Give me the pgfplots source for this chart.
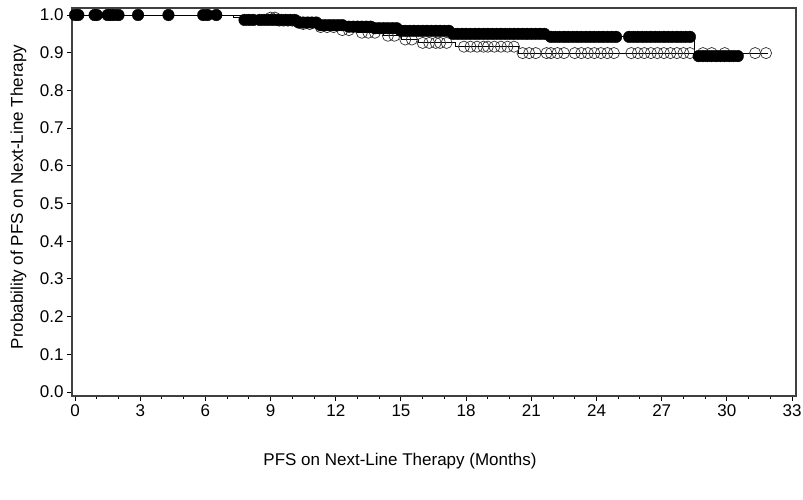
\documentclass[border=0pt]{standalone}
\usepackage{fontspec}
\setmainfont{Liberation Sans}
\usepackage{pgfplots}
\pgfplotsset{compat=1.18}

\begin{document}
\begin{tikzpicture}
\begin{axis}[
    at={(0,0)}, anchor=south west,
    scale only axis,
    width=724pt, height=388pt,
    xmin=-0.14, xmax=33.18,
    ymin=-0.0106, ymax=1.0186,
    xtick={0,3,6,9,12,15,18,21,24,27,30,33},
    minor x tick num=2,
    ytick={0,0.1,0.2,0.3,0.4,0.5,0.6,0.7,0.8,0.9,1.0},
    yticklabel style={/pgf/number format/fixed, /pgf/number format/fixed zerofill, /pgf/number format/precision=1},
    /pgf/number format/assume math mode=true,
    tick pos=left, tick align=outside,
    major tick length=5pt, minor tick length=3pt,
    every tick/.style={black, line width=1pt},
    axis line style={line width=1.3pt, black!75},
    font=\fontsize{17}{20}\selectfont,
    xlabel={PFS on Next-Line Therapy (Months)},
    ylabel={Probability of PFS on Next-Line Therapy},
    xlabel style={at={(axis description cs:0.453,-0.168)}, anchor=center},
    ylabel style={at={(axis description cs:-0.074,0.513)}, anchor=center},
]
% arm B: step curve with open censor marks
\addplot[const plot, black, line width=0.9pt] coordinates {
    (0,1.0) (7.3,0.993) (9.3,0.985) (10.3,0.976) (11.0,0.968) (12.0,0.960)
    (13.0,0.953) (14.2,0.945) (15.0,0.935) (15.8,0.926) (17.5,0.916)
    (20.4,0.899) (31.9,0.899)
};
\addplot[only marks, mark=o, mark size=5.6pt, mark options={line width=0.7pt, draw=black!80}] coordinates {
    (9.0,0.993) (9.2,0.993) (9.4,0.985) (9.6,0.985) (9.8,0.985) (10.0,0.985) (10.2,0.985)
    (10.5,0.976) (10.8,0.976)
    (11.3,0.968) (11.6,0.968) (11.9,0.968)
    (12.3,0.960) (12.6,0.960)
    (13.2,0.953) (13.5,0.953) (13.8,0.953)
    (14.4,0.945) (14.7,0.945)
    (15.2,0.935) (15.5,0.935)
    (16.0,0.926) (16.3,0.926) (16.6,0.926) (16.8,0.926) (17.1,0.926)
    (17.9,0.916) (18.2,0.916) (18.5,0.916) (18.8,0.916) (19.0,0.916) (19.3,0.916)
    (19.6,0.916) (19.9,0.916) (20.2,0.916)
    (20.6,0.899) (20.9,0.899) (21.2,0.899) (21.7,0.899) (21.9,0.899) (22.2,0.899)
    (22.5,0.899) (23.0,0.899) (23.3,0.899) (23.6,0.899) (23.9,0.899) (24.2,0.899)
    (24.5,0.899) (24.8,0.899) (25.6,0.899) (25.9,0.899) (26.2,0.899) (26.5,0.899)
    (26.8,0.899) (27.1,0.899) (27.4,0.899) (27.7,0.899) (28.0,0.899) (28.3,0.899)
    (28.9,0.899) (29.3,0.899) (29.9,0.899) (31.3,0.899) (31.8,0.899)
};
% arm A: step curve with filled censor marks
\addplot[const plot, black, line width=0.9pt] coordinates {
    (0,1.0) (7.7,0.987) (10.2,0.980) (11.2,0.973) (12.5,0.969) (13.7,0.965)
    (14.9,0.958) (17.3,0.950) (21.8,0.942) (28.5,0.891) (30.6,0.891)
};
\addplot[only marks, mark=*, mark size=5.8pt, mark options={fill=black, draw=black}] coordinates {
    (0,1.0) (0.15,1.0) (0.9,1.0) (1.0,1.0) (1.5,1.0) (1.65,1.0) (1.8,1.0) (2.0,1.0)
    (2.9,1.0) (4.3,1.0) (5.9,1.0) (6.1,1.0) (6.5,1.0)
    (7.8,0.987) (8.0,0.987) (8.2,0.987) (8.5,0.987) (8.7,0.987) (8.9,0.987)
    (9.1,0.987) (9.3,0.987) (9.5,0.987) (9.7,0.987) (9.9,0.987) (10.1,0.987)
    (10.3,0.980) (10.5,0.980) (10.7,0.980) (10.9,0.980) (11.1,0.980)
    (11.3,0.973) (11.5,0.973) (11.7,0.973) (11.9,0.973) (12.1,0.973) (12.3,0.973)
    (12.6,0.969) (12.8,0.969) (13.0,0.969) (13.2,0.969) (13.4,0.969) (13.6,0.969)
    (13.8,0.965) (14.0,0.965) (14.2,0.965) (14.4,0.965) (14.6,0.965) (14.8,0.965)
    (15.0,0.958) (15.2,0.958) (15.4,0.958) (15.6,0.958) (15.8,0.958) (16.0,0.958)
    (16.2,0.958) (16.4,0.958) (16.6,0.958) (16.8,0.958) (17.0,0.958) (17.2,0.958)
    (17.4,0.950) (17.6,0.950) (17.8,0.950) (18.0,0.950) (18.2,0.950) (18.4,0.950)
    (18.6,0.950) (18.8,0.950) (19.0,0.950) (19.2,0.950) (19.4,0.950) (19.6,0.950)
    (19.8,0.950) (20.0,0.950) (20.2,0.950) (20.4,0.950) (20.6,0.950) (20.8,0.950)
    (21.0,0.950) (21.2,0.950) (21.4,0.950) (21.6,0.950)
    (21.9,0.942) (22.1,0.942) (22.3,0.942) (22.5,0.942) (22.7,0.942) (22.9,0.942)
    (23.1,0.942) (23.3,0.942) (23.5,0.942) (23.7,0.942) (23.9,0.942) (24.1,0.942)
    (24.3,0.942) (24.5,0.942) (24.7,0.942) (24.9,0.942)
    (25.5,0.942) (25.7,0.942) (25.9,0.942) (26.1,0.942) (26.3,0.942) (26.5,0.942)
    (26.7,0.942) (26.9,0.942) (27.1,0.942) (27.3,0.942) (27.5,0.942) (27.7,0.942)
    (27.9,0.942) (28.1,0.942) (28.3,0.942)
    (28.7,0.891) (28.9,0.891) (29.1,0.891) (29.3,0.891) (29.5,0.891) (29.7,0.891)
    (29.9,0.891) (30.1,0.891) (30.3,0.891) (30.5,0.891)
};
\end{axis}
\pgfresetboundingbox
\useasboundingbox (-72pt,-104pt) rectangle (731pt,396pt);
\end{tikzpicture}
\end{document}
